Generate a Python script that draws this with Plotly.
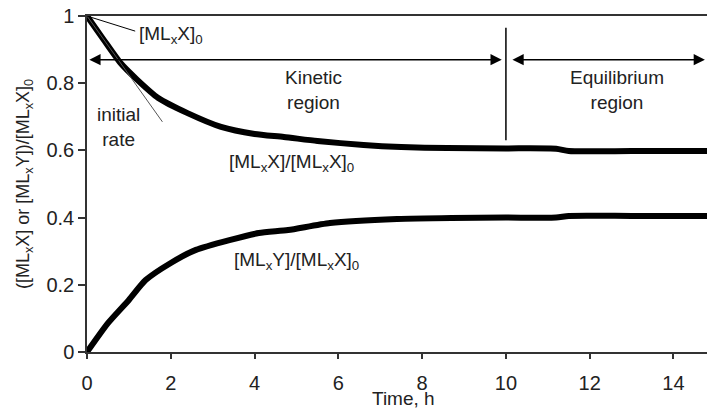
import plotly.graph_objects as go

# Data
t_mlx = [0, 0.4, 0.8, 1.2, 1.7, 2.4, 3.2, 4.0, 4.7, 5.5, 6.6, 7.5, 8.6, 10.0, 11.2, 11.5, 13.0, 14.8]
mlx_ratio = [1.0, 0.929, 0.86, 0.81, 0.756, 0.711, 0.670, 0.649, 0.640, 0.628, 0.616, 0.610, 0.607, 0.606, 0.605, 0.598, 0.598, 0.598]

t_mly = [0, 0.5, 1.0, 1.4, 2.0, 2.6, 3.4, 4.1, 4.8, 5.8, 7.4, 8.7, 10.0, 11.2, 11.5, 13.0, 14.8]
mly_ratio = [0.0, 0.086, 0.155, 0.214, 0.265, 0.304, 0.333, 0.354, 0.363, 0.384, 0.396, 0.399, 0.400, 0.400, 0.405, 0.405, 0.405]

x_ticks = [0, 2, 4, 6, 8, 10, 12, 14]
y_ticks = [0, 0.2, 0.4, 0.6, 0.8, 1]
y_tick_labels = ["0", "0.2", "0.4", "0.6", "0.8", "1"]

FONT = "Liberation Sans, Arial, Helvetica, sans-serif"

fig = go.Figure()
fig.add_trace(go.Scatter(x=t_mlx, y=mlx_ratio, mode="lines",
                         line=dict(color="black", width=6, shape="spline", smoothing=0.6),
                         showlegend=False, hoverinfo="skip"))
fig.add_trace(go.Scatter(x=t_mly, y=mly_ratio, mode="lines",
                         line=dict(color="black", width=6, shape="spline", smoothing=0.6),
                         showlegend=False, hoverinfo="skip"))

# tangent (initial rate) line and pointer line
fig.add_shape(type="line", x0=0, y0=1, x1=1.8, y1=0.685, line=dict(color="#555", width=1))
fig.add_shape(type="line", x0=0, y0=1, x1=1.15, y1=0.955, line=dict(color="black", width=1))
# vertical divider at t=10
fig.add_shape(type="line", x0=10, y0=0.63, x1=10, y1=0.965, line=dict(color="black", width=1.5))

# double arrows
arrow_common = dict(xref="x", yref="y", axref="x", ayref="y", showarrow=True, text="",
                    arrowhead=2, startarrowhead=2, arrowside="end+start",
                    arrowsize=1.5, arrowwidth=1.5, arrowcolor="black", startstandoff=0, standoff=0)
fig.add_annotation(x=9.9, y=0.87, ax=0.02, ay=0.87, **arrow_common)
fig.add_annotation(x=14.75, y=0.87, ax=10.12, ay=0.87, **arrow_common)

ann_font = dict(family=FONT, size=19, color="#222")
fig.add_annotation(x=5.4, y=0.78, text="Kinetic<br>region", showarrow=False, font=ann_font)
fig.add_annotation(x=12.66, y=0.78, text="Equilibrium<br>region", showarrow=False, font=ann_font)
fig.add_annotation(x=0.74, y=0.67, text="initial<br>rate", showarrow=False, font=ann_font)
fig.add_annotation(x=1.2, y=0.943, xanchor="left", text="[ML<sub>x</sub>X]<sub>0</sub>",
                   showarrow=False, font=ann_font)
fig.add_annotation(x=4.88, y=0.562, text="[ML<sub>x</sub>X]/[ML<sub>x</sub>X]<sub>0</sub>",
                   showarrow=False, font=ann_font)
fig.add_annotation(x=4.99, y=0.271, text="[ML<sub>x</sub>Y]/[ML<sub>x</sub>X]<sub>0</sub>",
                   showarrow=False, font=ann_font)

# x-axis title (placed just below the tick labels, as in the reference)
fig.add_annotation(x=7.55, xref="x", y=-0.102, yref="paper", yanchor="top", text="Time, h",
                   showarrow=False, font=dict(family=FONT, size=19, color="#222"))

fig.update_layout(
    width=707, height=408,
    margin=dict(l=87, r=0, t=16, b=56),
    plot_bgcolor="white", paper_bgcolor="white",
    font=dict(family=FONT, size=20, color="#222"),
    xaxis=dict(range=[0, 14.8], tickvals=x_ticks, ticks="outside", ticklen=5, tickwidth=1.5,
               tickcolor="#333", showline=True, linecolor="#333", linewidth=1.5, mirror=True,
               showgrid=False, zeroline=False, ticklabelstandoff=7, automargin=False),
    yaxis=dict(range=[0, 1], tickvals=y_ticks, ticktext=y_tick_labels, ticks="outside",
               ticklen=7, tickwidth=1.5, tickcolor="#333", showline=True, linecolor="#333",
               linewidth=1.5, showgrid=False, zeroline=False, automargin=False,
               title=dict(text="([ML<sub>x</sub>X] or [ML<sub>x</sub>Y])/[ML<sub>x</sub>X]<sub>0</sub>",
                          standoff=12, font=dict(size=18))),
)

fig.write_html("out.html")
